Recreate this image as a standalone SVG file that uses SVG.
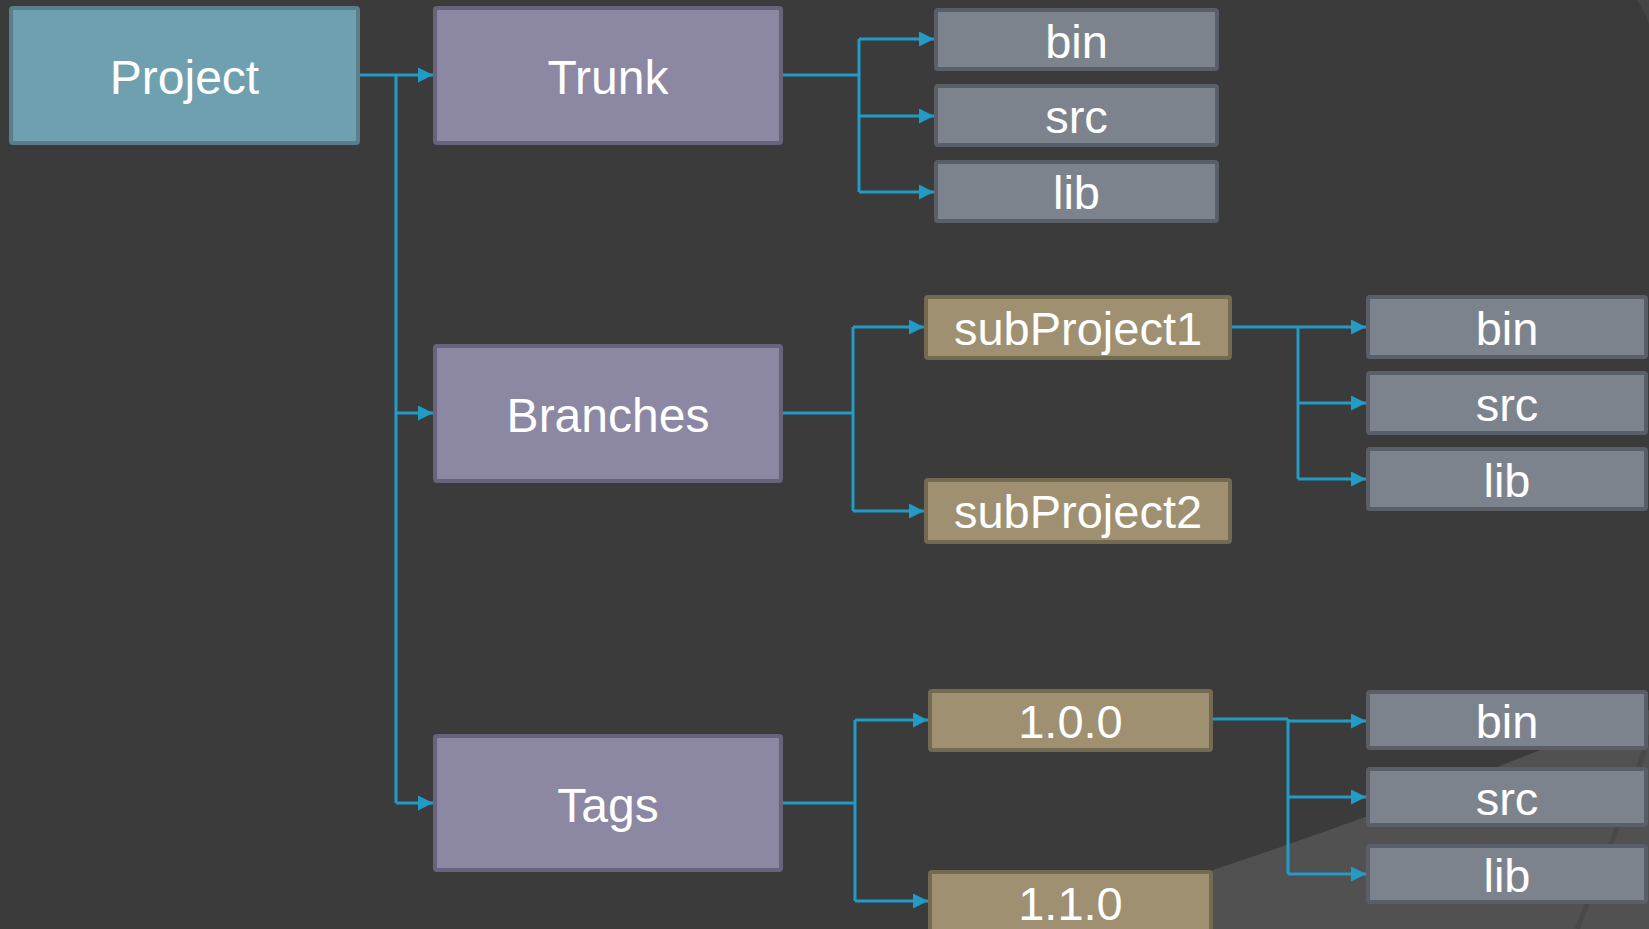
<svg xmlns="http://www.w3.org/2000/svg" width="1649" height="929" viewBox="0 0 1649 929">
<style>
text{font-family:"Liberation Sans",Arial,sans-serif;fill:#ffffff;text-anchor:middle}
.big{font-size:48px}
.small{font-size:47px}
.proj{fill:#6fa0af;stroke:#5a7e8b;stroke-width:4}
.main{fill:#8c88a3;stroke:#67637b;stroke-width:4}
.dir{fill:#7d838c;stroke:#5a5f67;stroke-width:4}
.sub{fill:#9e9071;stroke:#736a52;stroke-width:4}
.conn{fill:none;stroke:#229bc6;stroke-width:3}
</style>
<defs>
<marker id="arr" markerUnits="userSpaceOnUse" markerWidth="16" markerHeight="16" refX="15" refY="7.5" orient="auto">
<path d="M0,0 L15,7.5 L0,15 Z" fill="#229bc6"/>
</marker>
</defs>
<rect x="0" y="0" width="1649" height="929" fill="#3b3b3b"/>
<path d="M1213,870 Q1370,818 1535,752 Q1600,728 1649,710 L1649,929 L1160,929 Z" fill="#515151"/>
<path d="M1649,735 Q1630,800 1577,929" fill="none" stroke="#474747" stroke-width="5" opacity="0.8"/>
<path d="M1637,0 Q1645,12 1649,24 L1649,0 Z" fill="#454545"/>
<g id="connectors">
<path class="conn" d="M360,75 H433" marker-end="url(#arr)"/>
<path class="conn" d="M396,75 V803"/>
<path class="conn" d="M396,413 H433" marker-end="url(#arr)"/>
<path class="conn" d="M396,803 H433" marker-end="url(#arr)"/>
<path class="conn" d="M783,75 H859 M859,39 V192"/>
<path class="conn" d="M859,39 H934" marker-end="url(#arr)"/>
<path class="conn" d="M859,116 H934" marker-end="url(#arr)"/>
<path class="conn" d="M859,192 H934" marker-end="url(#arr)"/>
<path class="conn" d="M783,413 H853 M853,327 V511"/>
<path class="conn" d="M853,327 H924" marker-end="url(#arr)"/>
<path class="conn" d="M853,511 H924" marker-end="url(#arr)"/>
<path class="conn" d="M1232,327 H1298 M1298,327 V479"/>
<path class="conn" d="M1298,327 H1366" marker-end="url(#arr)"/>
<path class="conn" d="M1298,403 H1366" marker-end="url(#arr)"/>
<path class="conn" d="M1298,479 H1366" marker-end="url(#arr)"/>
<path class="conn" d="M783,803 H855 M855,720 V901"/>
<path class="conn" d="M855,720 H928" marker-end="url(#arr)"/>
<path class="conn" d="M855,901 H928" marker-end="url(#arr)"/>
<path class="conn" d="M1213,719 H1288 M1288,719 V874"/>
<path class="conn" d="M1288,721 H1366" marker-end="url(#arr)"/>
<path class="conn" d="M1288,797 H1366" marker-end="url(#arr)"/>
<path class="conn" d="M1288,874 H1366" marker-end="url(#arr)"/>
</g>
<g id="project"><rect class="proj" x="11" y="8" width="347" height="135" rx="2"/><text class="big" x="184.5" y="94">Project</text></g>
<g id="trunk"><rect class="main" x="435" y="8" width="346" height="135" rx="2"/><text class="big" x="608" y="94">Trunk</text></g>
<g id="branches"><rect class="main" x="435" y="346" width="346" height="135" rx="2"/><text class="big" x="608" y="432">Branches</text></g>
<g id="tags"><rect class="main" x="435" y="736" width="346" height="134" rx="2"/><text class="big" x="608" y="822">Tags</text></g>
<g id="trunk-bin"><rect class="dir" x="936" y="10" width="281" height="59" rx="2"/><text class="small" x="1076.5" y="58">bin</text></g>
<g id="trunk-src"><rect class="dir" x="936" y="86" width="281" height="59" rx="2"/><text class="small" x="1076.5" y="133">src</text></g>
<g id="trunk-lib"><rect class="dir" x="936" y="162" width="281" height="59" rx="2"/><text class="small" x="1076.5" y="209">lib</text></g>
<g id="subProject1"><rect class="sub" x="926" y="297" width="304" height="61" rx="2"/><text class="small" x="1078" y="345">subProject1</text></g>
<g id="subProject2"><rect class="sub" x="926" y="480" width="304" height="62" rx="2"/><text class="small" x="1078" y="528">subProject2</text></g>
<g id="sp1-bin"><rect class="dir" x="1368" y="297" width="278" height="60" rx="2"/><text class="small" x="1507" y="345">bin</text></g>
<g id="sp1-src"><rect class="dir" x="1368" y="373" width="278" height="60" rx="2"/><text class="small" x="1507" y="421">src</text></g>
<g id="sp1-lib"><rect class="dir" x="1368" y="449" width="278" height="60" rx="2"/><text class="small" x="1507" y="497">lib</text></g>
<g id="tag-100"><rect class="sub" x="930" y="691" width="281" height="59" rx="2"/><text class="small" x="1070.5" y="738">1.0.0</text></g>
<g id="tag-110"><rect class="sub" x="930" y="872" width="281" height="70" rx="2"/><text class="small" x="1070.5" y="920">1.1.0</text></g>
<g id="tag-bin"><rect class="dir" x="1368" y="692" width="278" height="56" rx="2"/><text class="small" x="1507" y="738">bin</text></g>
<g id="tag-src"><rect class="dir" x="1368" y="769" width="278" height="56" rx="2"/><text class="small" x="1507" y="815">src</text></g>
<g id="tag-lib"><rect class="dir" x="1368" y="846" width="278" height="56" rx="2"/><text class="small" x="1507" y="892">lib</text></g>
</svg>
